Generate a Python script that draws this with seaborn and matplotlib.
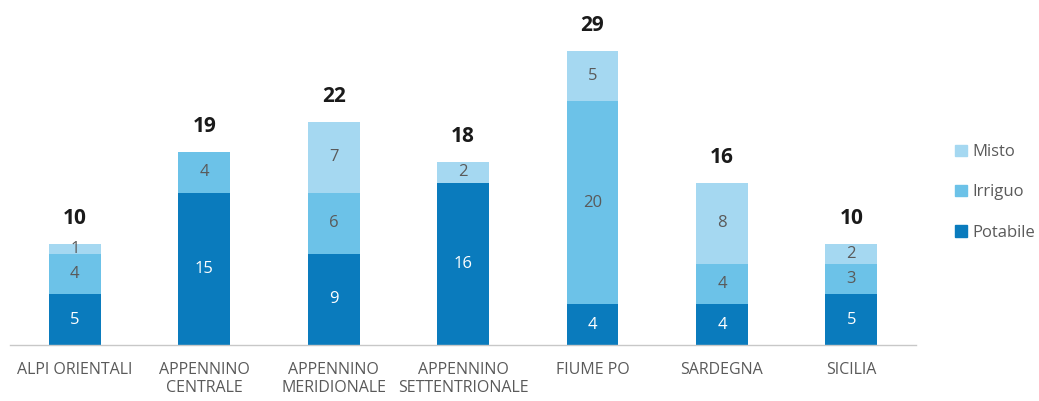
import numpy as np
import pandas as pd
import seaborn as sns
import matplotlib.pyplot as plt
from matplotlib.patches import Patch

# data
regions = ['ALPI ORIENTALI', 'APPENNINO\nCENTRALE', 'APPENNINO\nMERIDIONALE',
           'APPENNINO\nSETTENTRIONALE', 'FIUME PO', 'SARDEGNA', 'SICILIA']
potabile = [5, 15, 9, 16, 4, 4, 5]
irriguo = [4, 4, 6, 0, 20, 4, 3]
misto = [1, 0, 7, 2, 5, 8, 2]

c_pot = '#0a7bbd'
c_irr = '#6cc2e8'
c_mis = '#a5d8f1'
grey = '#5a5a5a'

sns.set_theme(style='white')
plt.rcParams['font.family'] = ['Open Sans', 'DejaVu Sans']

df = pd.DataFrame({'region': regions, 'Potabile': potabile,
                   'Irriguo': irriguo, 'Misto': misto})
df['lev2'] = df['Potabile'] + df['Irriguo']
df['total'] = df['lev2'] + df['Misto']

fig = plt.figure(figsize=(10.39, 4.01), dpi=100)
ax = fig.add_axes([0.0097, 0.1397, 0.872, 0.835])

# stacked look: draw cumulative levels on top of each other
for col, c in [('total', c_mis), ('lev2', c_irr), ('Potabile', c_pot)]:
    sns.barplot(data=df, x='region', y=col, color=c, width=0.4,
                saturation=1, linewidth=0, ax=ax)

for i, row in df.iterrows():
    if row['Potabile']:
        ax.text(i, row['Potabile'] / 2, str(row['Potabile']), ha='center',
                va='center', color='white', fontsize=12)
    if row['Irriguo']:
        ax.text(i, row['Potabile'] + row['Irriguo'] / 2, str(row['Irriguo']),
                ha='center', va='center', color=grey, fontsize=12)
    if row['Misto']:
        ax.text(i, row['lev2'] + row['Misto'] / 2, str(row['Misto']),
                ha='center', va='center', color=grey, fontsize=12)
    ax.text(i, row['total'] + 2.5, str(row['total']), ha='center',
            va='center', color='#1a1a1a', fontsize=15, fontweight='bold')

ax.set_xlim(-0.5, 6.5)
ax.set_ylim(0, 33)
ax.set_xlabel('')
ax.set_ylabel('')
ax.set_yticks([])
ax.tick_params(axis='x', length=0, pad=12, labelsize=11.5, labelcolor=grey)
for s in ['top', 'right', 'left']:
    ax.spines[s].set_visible(False)
ax.spines['bottom'].set_color('#c8c8c8')
ax.spines['bottom'].set_linewidth(1)

handles = [Patch(color=c_mis, label='Misto'),
           Patch(color=c_irr, label='Irriguo'),
           Patch(color=c_pot, label='Potabile')]
fig.legend(handles=handles, loc='center left', bbox_to_anchor=(0.905, 0.52),
           frameon=False, fontsize=12, labelcolor=grey, handlelength=0.7,
           handleheight=0.7, handletextpad=0.35, labelspacing=1.45)

fig.savefig('out.png', dpi=100)
